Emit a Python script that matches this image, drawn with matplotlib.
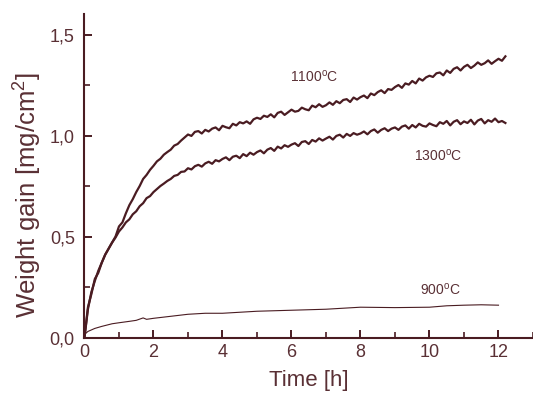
import numpy as np
import matplotlib
matplotlib.use("Agg")
import matplotlib.pyplot as plt
from matplotlib.ticker import MultipleLocator, FuncFormatter

# oxidation weight gain curves
time_fine = np.round(np.arange(0, 12.25, 0.1), 1)

gain_1100 = [
    0.00, 0.15, 0.215, 0.29, 0.32, 0.37, 0.41, 0.44, 0.47, 0.50,
    0.55, 0.57, 0.615, 0.655, 0.685, 0.72, 0.75, 0.785, 0.805, 0.83,
    0.85, 0.872, 0.885, 0.905, 0.918, 0.93, 0.95, 0.958, 0.975, 0.99,
    1.005, 0.998, 1.018, 1.022, 1.010, 1.028, 1.020, 1.034, 1.040, 1.026,
    1.048, 1.041, 1.036, 1.058, 1.050, 1.066, 1.060, 1.070, 1.058, 1.080,
    1.088, 1.082, 1.098, 1.092, 1.105, 1.090, 1.112, 1.118, 1.102, 1.115,
    1.128, 1.118, 1.122, 1.138, 1.130, 1.125, 1.148, 1.140, 1.155, 1.142,
    1.150, 1.164, 1.152, 1.170, 1.160, 1.176, 1.180, 1.166, 1.188, 1.178,
    1.190, 1.198, 1.185, 1.208, 1.200, 1.215, 1.224, 1.210, 1.230, 1.226,
    1.240, 1.250, 1.236, 1.258, 1.252, 1.270, 1.258, 1.282, 1.272, 1.288,
    1.296, 1.290, 1.308, 1.312, 1.298, 1.322, 1.310, 1.330, 1.338, 1.322,
    1.340, 1.350, 1.334, 1.346, 1.362, 1.350, 1.358, 1.372, 1.355, 1.368,
    1.380, 1.370, 1.392,
]

gain_1300 = [
    0.00, 0.14, 0.225, 0.28, 0.33, 0.37, 0.41, 0.44, 0.47, 0.495,
    0.525, 0.545, 0.57, 0.585, 0.61, 0.625, 0.65, 0.665, 0.69, 0.70,
    0.72, 0.735, 0.75, 0.762, 0.775, 0.785, 0.80, 0.805, 0.82, 0.822,
    0.838, 0.832, 0.848, 0.855, 0.846, 0.862, 0.870, 0.860, 0.878, 0.872,
    0.884, 0.892, 0.878, 0.895, 0.900, 0.888, 0.908, 0.898, 0.915, 0.905,
    0.918, 0.926, 0.912, 0.930, 0.938, 0.924, 0.945, 0.936, 0.952, 0.944,
    0.955, 0.962, 0.948, 0.968, 0.972, 0.958, 0.978, 0.970, 0.986, 0.975,
    0.985, 0.994, 0.980, 0.998, 1.004, 0.990, 1.008, 0.998, 1.012, 1.004,
    1.010, 1.020, 1.006, 1.022, 1.030, 1.014, 1.028, 1.036, 1.022, 1.034,
    1.040, 1.028, 1.044, 1.050, 1.034, 1.052, 1.040, 1.058, 1.048, 1.044,
    1.060, 1.052, 1.046, 1.066, 1.058, 1.072, 1.050, 1.068, 1.076, 1.056,
    1.070, 1.062, 1.078, 1.055, 1.074, 1.082, 1.060, 1.076, 1.068, 1.084,
    1.066, 1.072, 1.062,
]

time_900 = [0, 0.1, 0.3, 0.5, 0.8, 1.0, 1.3, 1.5, 1.7, 1.8, 2.0, 2.5, 3.0,
            3.5, 4.0, 5.0, 6.0, 7.0, 8.0, 9.0, 10.0, 10.5, 11.0, 11.5, 12.0]
gain_900 = [0.015, 0.03, 0.045, 0.055, 0.068, 0.073, 0.08, 0.085, 0.097, 0.09,
            0.095, 0.105, 0.115, 0.12, 0.12, 0.13, 0.135, 0.14, 0.15, 0.148,
            0.15, 0.157, 0.16, 0.162, 0.16]

labels = ["1100$^\\mathrm{o}$C", "1300$^\\mathrm{o}$C", "900$^\\mathrm{o}$C"]
label_pos = [(6.65, 1.29), (10.25, 0.90), (10.3, 0.235)]

line_col = "#4a1c22"
text_col = "#5a3035"

plt.rcParams["font.family"] = ["Liberation Sans", "DejaVu Sans"]
plt.rcParams["mathtext.fontset"] = "custom"
plt.rcParams["mathtext.rm"] = "Liberation Sans"
plt.rcParams["mathtext.it"] = "Liberation Sans"
fig = plt.figure(figsize=(5.33, 3.98), dpi=100)
ax = fig.add_axes([0.1585, 0.152, 0.8415, 0.812])

ax.plot(time_fine, gain_1100, color=line_col, lw=1.6)
ax.plot(time_fine, gain_1300, color=line_col, lw=1.6)
ax.plot(time_900, gain_900, color=line_col, lw=0.8)

for txt, (x, y) in zip(labels, label_pos):
    ax.text(x, y, txt, fontsize=10, color=text_col, ha="center", va="center")

ax.set_xlim(0, 13.0)
ax.set_ylim(0, 1.6)
ax.xaxis.set_major_locator(MultipleLocator(2))
ax.xaxis.set_minor_locator(MultipleLocator(1))
ax.yaxis.set_major_locator(MultipleLocator(0.5))
ax.yaxis.set_minor_locator(MultipleLocator(0.25))
ax.xaxis.set_major_formatter(FuncFormatter(lambda v, p: f"{v:.0f}"))
ax.yaxis.set_major_formatter(FuncFormatter(lambda v, p: f"{v:.1f}".replace(".", ",")))

for s in ["top", "right"]:
    ax.spines[s].set_visible(False)
for s in ["left", "bottom"]:
    ax.spines[s].set_color(line_col)
    ax.spines[s].set_linewidth(1.5)

ax.tick_params(which="major", direction="in", length=6, width=1.4,
               color=line_col, labelcolor=text_col, labelsize=13)
ax.tick_params(which="minor", direction="in", length=4, width=1.2, color=line_col)
ax.tick_params(axis="y", pad=7)
ax.tick_params(axis="x", pad=5)

ax.set_xlabel("Time [h]", fontsize=16, color=text_col)
ax.set_ylabel("Weight gain [mg/cm$^2$]", fontsize=18.5, color=text_col)
ax.yaxis.set_label_coords(-0.09, 0.44)
ax.xaxis.set_label_coords(0.5, -0.1)

fig.savefig("out.png", dpi=100)
